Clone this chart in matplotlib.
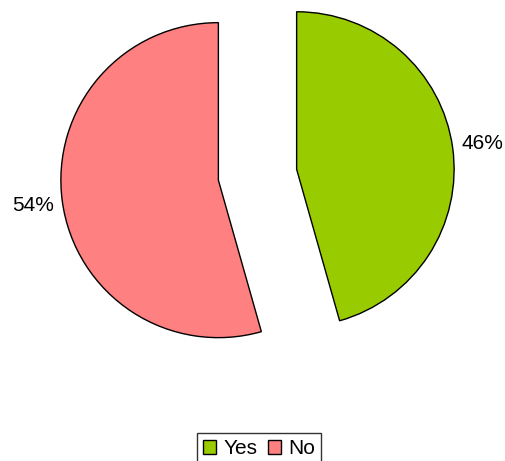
import matplotlib.pyplot as plt

labels = ["Yes", "No"]
shares = [45.6, 54.4]
colors = ["#99CC00", "#FF8080"]

plt.rcParams["font.family"] = ["Liberation Sans", "DejaVu Sans"]

W, H = 506, 461
fig = plt.figure(figsize=(W / 100, H / 100), dpi=100)
ax = fig.add_axes([0, 0, 1, 1])

# pie center/radius in pixel units (y measured from bottom); explode is absolute
wedges, _, pcts = ax.pie(
    shares, colors=colors, startangle=90, counterclock=False,
    explode=[39.5, 39.5], center=(257.5, H - 174.7), radius=157.5,
    autopct="%.0f%%", pctdistance=1.19,
    wedgeprops=dict(edgecolor="black", linewidth=1.0),
    textprops=dict(fontsize=15),
)
ax.set_xlim(0, W)
ax.set_ylim(0, H)
ax.set_aspect("equal")
ax.axis("off")

leg = fig.legend(wedges, labels, loc="upper center", bbox_to_anchor=(0.512, 28 / H),
                 ncol=2, frameon=True, fontsize=15, handlelength=0.62, handleheight=0.62,
                 handletextpad=0.33, columnspacing=0.53, borderpad=0.3,
                 borderaxespad=0, fancybox=False)
leg.get_frame().set_edgecolor("black")
leg.get_frame().set_linewidth(1.0)

fig.savefig("out.png", dpi=100)
